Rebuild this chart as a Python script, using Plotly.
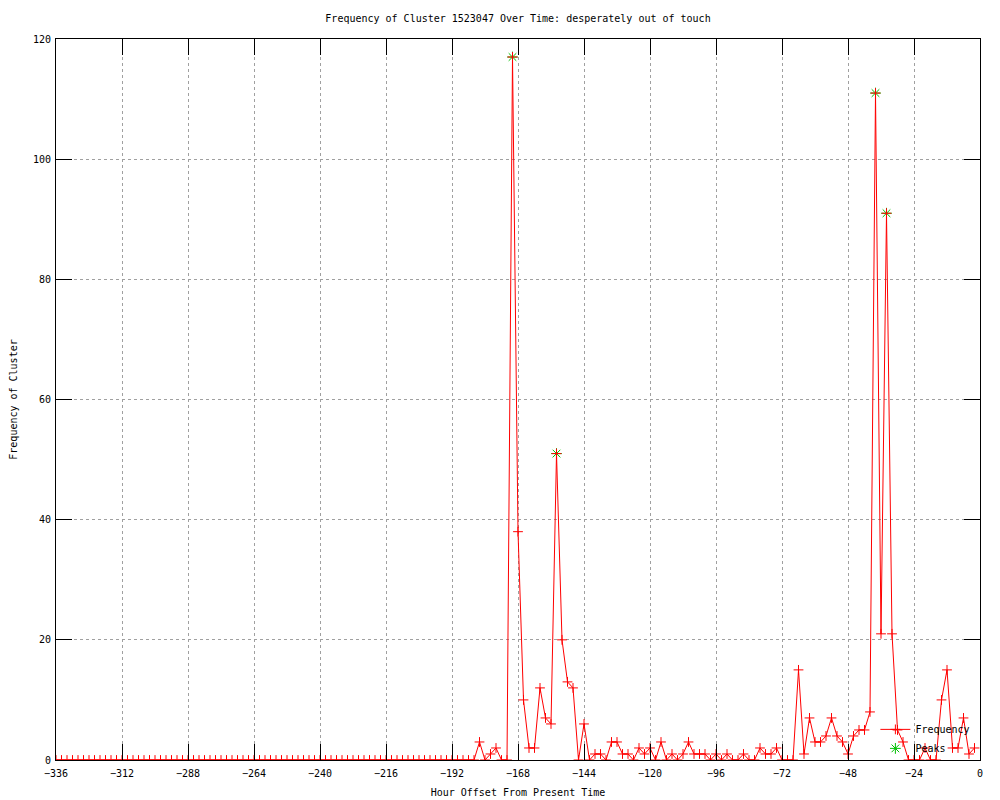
import plotly.graph_objects as go

# Hour offsets (every 2 hours) from -336 to -2
hours = list(range(-336, 0, 2))

# Frequency values
freq = [
    0, 0, 0, 0, 0, 0, 0, 0, 0, 0, 0, 0, 0, 0, 0, 0, 0, 0, 0, 0,
    0, 0, 0, 0, 0, 0, 0, 0, 0, 0, 0, 0, 0, 0, 0, 0, 0, 0, 0, 0,
    0, 0, 0, 0, 0, 0, 0, 0, 0, 0, 0, 0, 0, 0, 0, 0, 0, 0, 0, 0,
    0, 0, 0, 0, 0, 0, 0, 0, 0, 0, 0, 0, 0, 0, 0, 0, 0,
    3, 0, 1, 2, 0, 0, 117, 38, 10, 2, 2, 12, 7, 6, 51, 20, 13, 12,
    0, 6, 0, 1, 1, 0, 3, 3, 1, 1, 0, 2, 1, 2, 0, 3, 0, 1, 0, 1,
    3, 1, 1, 1, 0, 1, 0, 1, 0, 0, 1, 0, 0, 2, 1, 1, 2, 0, 0, 0,
    15, 1, 7, 3, 3, 4, 7, 4, 3, 1, 4, 5, 5, 8, 111, 21, 91, 21,
    5, 3, 0, 0, 0, 2, 0, 0, 10, 15, 2, 2, 7, 1, 2,
]

# Detected peaks
peak_hours = [-170, -154, -38, -34]
peak_values = [117, 51, 111, 91]

x_ticks = list(range(-336, 1, 24))
y_ticks = list(range(0, 121, 20))

FONT = "DejaVu Sans Mono"
W, H = 992, 792  # page body has an 8px margin

fig = go.Figure()
fig.add_trace(go.Scatter(
    x=peak_hours, y=peak_values, mode="markers", name="Peaks",
    legendrank=2,
    marker=dict(symbol="asterisk", size=9, color="#00c000",
                line=dict(color="#00c000", width=1)),
))
fig.add_trace(go.Scatter(
    x=hours, y=freq, mode="lines+markers", name="Frequency",
    legendrank=1,
    line=dict(color="#ff0000", width=1),
    marker=dict(symbol="cross-thin", size=7, color="#ff0000",
                line=dict(color="#ff0000", width=1)),
))

fig.update_layout(
    width=W, height=H,
    paper_bgcolor="white", plot_bgcolor="white",
    margin=dict(l=48, r=20, t=31, b=40, autoexpand=False),
    font=dict(family=FONT, size=10, color="black"),
    title=dict(text="Frequency of Cluster 1523047 Over Time: desperately out of touch",
               x=510 / W, xanchor="center", y=1 - 10 / H, yanchor="middle",
               font=dict(family=FONT, size=10, color="black")),
    showlegend=True,
    legend=dict(x=0.995, xanchor="right", y=-0.004, yanchor="bottom",
                bgcolor="rgba(0,0,0,0)", font=dict(family=FONT, size=10),
                tracegroupgap=0, itemwidth=30),
    xaxis=dict(
        range=[-336, 0], tickmode="array", tickvals=x_ticks,
        ticks="inside", ticklen=16, tickcolor="black", tickwidth=1,
        ticklabelstandoff=4,
        showline=True, linecolor="black", linewidth=1, mirror="ticks",
        showgrid=True, gridcolor="#a0a0a0", griddash="dot", gridwidth=1,
        zeroline=False, automargin=False,
        title=dict(text="Hour Offset From Present Time", standoff=10,
                   font=dict(family=FONT, size=10)),
    ),
    yaxis=dict(
        range=[0, 120], tickmode="array", tickvals=y_ticks,
        ticks="inside", ticklen=16, tickcolor="black", tickwidth=1,
        ticklabelstandoff=2,
        showline=True, linecolor="black", linewidth=1, mirror="ticks",
        showgrid=True, gridcolor="#a0a0a0", griddash="dot", gridwidth=1,
        zeroline=False, automargin=False,
        title=dict(text="Frequency of Cluster", standoff=14,
                   font=dict(family=FONT, size=10)),
    ),
)

fig.write_html("out.html")
